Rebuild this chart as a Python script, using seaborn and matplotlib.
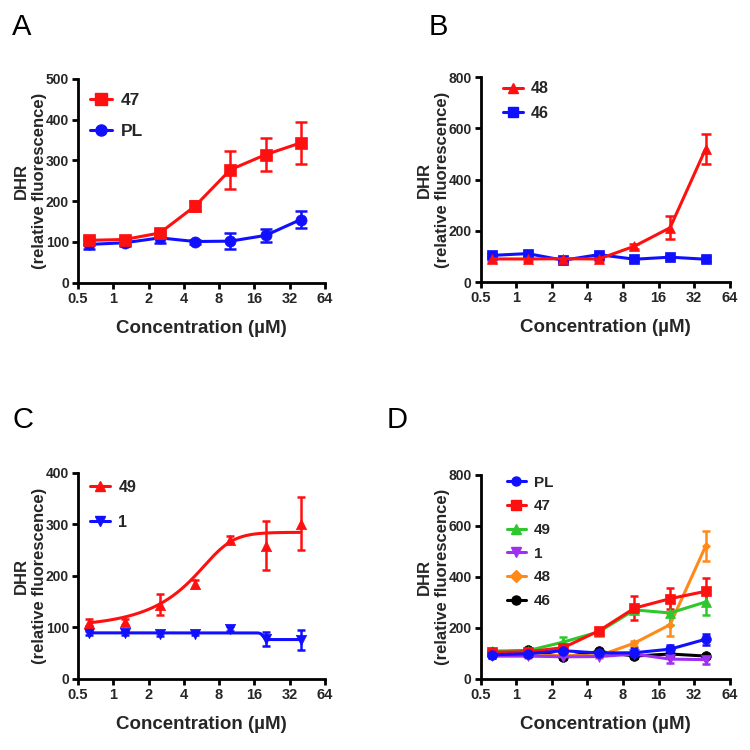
"""
DHR relative fluorescence vs concentration, four panels (A-D).
Saves out.png at 750x750.
"""

import numpy as np
import pandas as pd
import matplotlib
matplotlib.use("Agg")
import matplotlib.pyplot as plt
from matplotlib import font_manager
from matplotlib.lines import Line2D
from matplotlib.ticker import NullLocator
import seaborn as sns

sns.set_theme(style="ticks")
_installed = {f.name for f in font_manager.fontManager.ttflist}
NARROW = "Liberation Sans Narrow" if "Liberation Sans Narrow" in _installed else "Liberation Sans"
plt.rcParams["font.family"] = ["Liberation Sans", "DejaVu Sans"]

# data
conc = [0.625, 1.25, 2.5, 5, 10, 20, 40]

dhr_47 = [104, 106, 122, 188, 277, 314, 343]
err_47 = [8, 6, 8, 12, 46, 41, 52]
dhr_pl = [94, 98, 110, 101, 102, 116, 155]
err_pl = [12, 8, 12, 5, 19, 15, 22]
dhr_48 = [90, 90, 91, 90, 140, 212, 520]
err_48 = [10, 8, 8, 8, 10, 45, 58]
dhr_46 = [104, 111, 85, 107, 89, 97, 89]
err_46 = [8, 6, 8, 6, 6, 6, 8]
dhr_49 = [109, 110, 144, 184, 270, 258, 301]
err_49 = [6, 6, 20, 8, 6, 48, 52]
dhr_1 = [89, 89, 86, 87, 97, 77, 75]
err_1 = [4, 4, 3, 3, 5, 14, 19]

# dose-response fits drawn in panel C (parameters)
fit_49 = dict(bottom=100, top=284, ec=8.06, hill=4.0, asym=0.3)
fit_1 = dict(bottom=89, top=76, ec=19.0, hill=40.0, asym=1.0)

xticks = [0.5, 1, 2, 4, 8, 16, 32, 64]
xtick_labels = ["0.5", "1", "2", "4", "8", "16", "32", "64"]

RED, BLUE = "#ff1010", "#1010ff"
GREEN, PURPLE, ORANGE, BLACK = "#2ec82e", "#a030f0", "#ff8a1a", "#000000"


def _fit_curve(p, x):
    return p["bottom"] + (p["top"] - p["bottom"]) / (1 + (p["ec"] / x) ** p["hill"]) ** p["asym"]


def _errorbars(ax, y, err, color, cap=4.0):
    ax.errorbar(conc, y, yerr=err, fmt="none", ecolor=color, elinewidth=1.8,
                capsize=cap, capthick=1.8, clip_on=False, zorder=3)


def _series(ax, y, err, color, marker, ms=7.5, cap=4.0):
    _errorbars(ax, y, err, color, cap)
    df = pd.DataFrame({"conc": conc, "dhr": y})
    sns.lineplot(data=df, x="conc", y="dhr", ax=ax, color=color, lw=2.2,
                 marker=marker, markersize=ms, markeredgecolor=color,
                 markeredgewidth=0.5, clip_on=False, zorder=4)


def _style(ax, ymax, ystep):
    ax.set_xscale("log", base=2)
    ax.set_xlim(0.5, 64)
    ax.set_ylim(0, ymax)
    ax.set_xticks(xticks, labels=xtick_labels)
    ax.xaxis.set_minor_locator(NullLocator())
    ax.set_yticks(np.arange(0, ymax + 1, ystep))
    sns.despine(ax=ax)
    for s in ("left", "bottom"):
        ax.spines[s].set_linewidth(2.0)
        ax.spines[s].set_color("black")
    ax.tick_params(axis="both", direction="out", length=4.5, width=2.0, color="black", pad=2)
    for lab in ax.get_xticklabels():
        lab.set_fontfamily(NARROW)
        lab.set_fontweight("bold")
        lab.set_fontsize(10.5)
    for lab in ax.get_yticklabels():
        lab.set_fontfamily(NARROW)
        lab.set_fontweight("bold")
        lab.set_fontsize(10)
    ax.set_xlabel("Concentration (µM)", fontsize=13.5, fontfamily=NARROW,
                  fontweight="bold", labelpad=10)
    ax.set_ylabel("DHR\n(relative fluorescence)", fontsize=12, fontweight="bold",
                  labelpad=-1, linespacing=1.25)
    ax.set_facecolor("white")
    ax.grid(False)


def _legend(ax, entries, anchor, spacing, fs=11.5, ms=7.5):
    handles = [Line2D([], [], color=c, marker=m, lw=2.2, markersize=ms, markeredgecolor=c)
               for _, c, m in entries]
    labels = [name for name, _, _ in entries]
    leg = ax.legend(handles, labels, loc="upper left", bbox_to_anchor=anchor,
                    frameon=False, handlelength=1.25, handletextpad=0.5,
                    labelspacing=spacing, borderpad=0, borderaxespad=0,
                    prop=dict(family=NARROW, weight="bold", size=fs))
    return leg


fig = plt.figure(figsize=(7.5, 7.5), dpi=100)
fig.patch.set_facecolor("white")

axA = fig.add_axes([0.104, 0.623, 0.329, 0.272])
axB = fig.add_axes([0.641, 0.624, 0.332, 0.273])
axC = fig.add_axes([0.104, 0.095, 0.329, 0.275])
axD = fig.add_axes([0.641, 0.095, 0.332, 0.272])

# A: 47 vs PL
_series(axA, dhr_pl, err_pl, BLUE, "o", ms=8, cap=4.3)
_series(axA, dhr_47, err_47, RED, "s", ms=8, cap=4.3)
_style(axA, 500, 100)
_legend(axA, [("47", RED, "s"), ("PL", BLUE, "o")], (0.05, 0.93), 0.9, fs=12.5, ms=8)

# B: 48 vs 46
_series(axB, dhr_46, err_46, BLUE, "s", cap=3.5)
_series(axB, dhr_48, err_48, RED, "^", cap=3.5)
_style(axB, 800, 200)
_legend(axB, [("48", RED, "^"), ("46", BLUE, "s")], (0.09, 0.98), 0.6)

# C: 49 vs 1 with fitted curves
xfit = np.geomspace(conc[0], conc[-1], 300)
for y, err, color, marker, p in [(dhr_1, err_1, BLUE, "v", fit_1),
                                 (dhr_49, err_49, RED, "^", fit_49)]:
    _errorbars(axC, y, err, color, cap=3.2)
    sns.lineplot(x=xfit, y=_fit_curve(p, xfit), ax=axC, color=color, lw=2.2, zorder=4)
    sns.scatterplot(x=conc, y=y, ax=axC, color=color, marker=marker, s=55,
                    edgecolor=color, linewidth=0.5, clip_on=False, zorder=5)
_style(axC, 400, 100)
_legend(axC, [("49", RED, "^"), ("1", BLUE, "v")], (0.05, 0.965), 1.25)

# D: all compounds
_series(axD, dhr_46, err_46, BLACK, "o", ms=7, cap=3.2)
_series(axD, dhr_48, err_48, ORANGE, "D", ms=4.5, cap=3.2)
_series(axD, dhr_1, err_1, PURPLE, "v", ms=7, cap=3.2)
_series(axD, dhr_49, err_49, GREEN, "^", ms=7, cap=3.2)
_series(axD, dhr_47, err_47, RED, "s", ms=6.5, cap=3.2)
_series(axD, dhr_pl, err_pl, BLUE, "o", ms=7, cap=3.2)
_style(axD, 800, 200)
_legend(axD, [("PL", BLUE, "o"), ("47", RED, "s"), ("49", GREEN, "^"),
              ("1", PURPLE, "v"), ("48", ORANGE, "D"), ("46", BLACK, "o")],
        (0.105, 0.995), 0.63, fs=11, ms=6.5)

# panel letters
for x, y, letter in [(0.016, 0.953, "A"), (0.572, 0.953, "B"),
                     (0.016, 0.429, "C"), (0.515, 0.429, "D")]:
    fig.text(x, y, letter, fontsize=21, va="baseline", ha="left", color="black")

fig.savefig("out.png", dpi=100, facecolor="white")
